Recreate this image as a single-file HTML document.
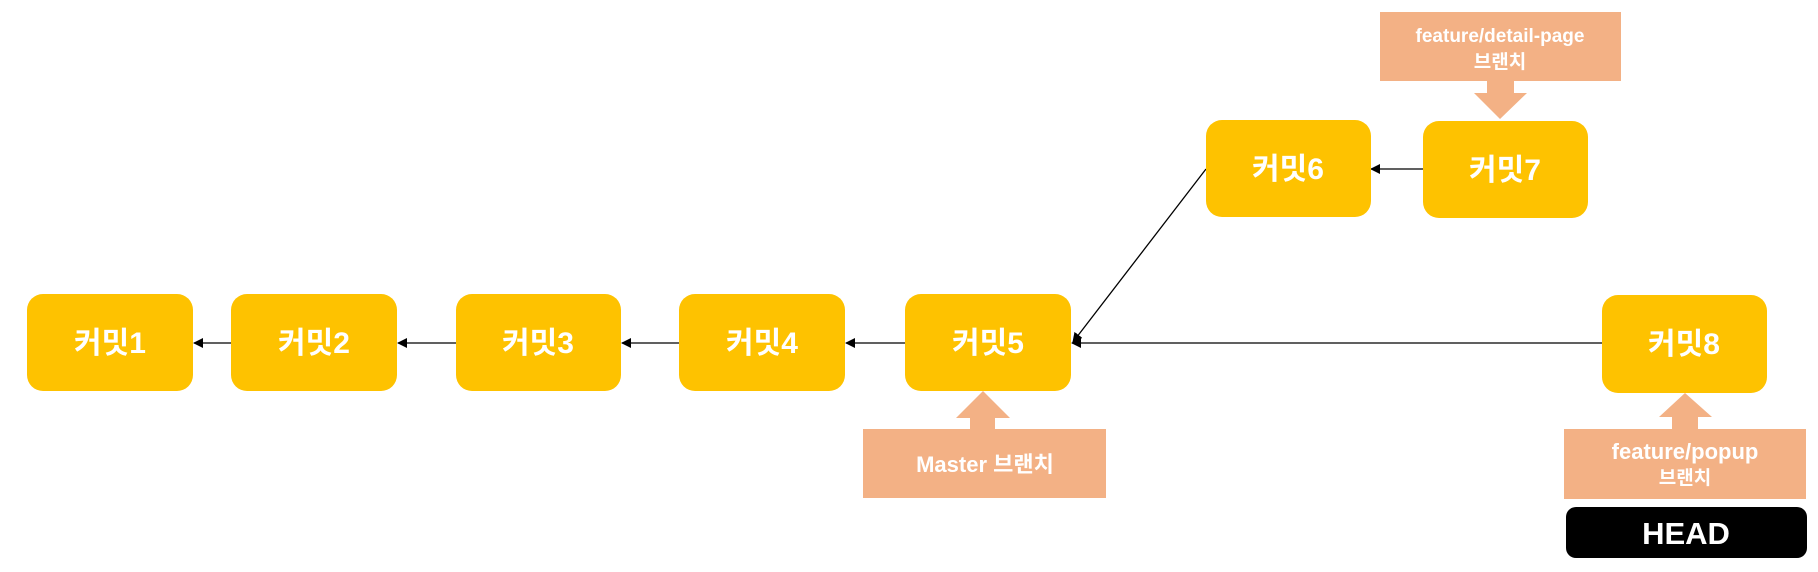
<!DOCTYPE html>
<html><head><meta charset="utf-8"><style>
html,body{margin:0;padding:0;background:#fff;}
svg{display:block;}
text{font-family:"Liberation Sans","Noto Sans CJK KR",sans-serif;font-weight:bold;fill:#fff;text-anchor:middle;}
</style></head><body>
<svg width="1818" height="572" viewBox="0 0 1818 572" xmlns="http://www.w3.org/2000/svg">
<defs>
<marker id="ar" markerWidth="10" markerHeight="10" refX="9" refY="5" orient="auto" markerUnits="userSpaceOnUse">
<path d="M0,0 L10,5 L0,10 z" fill="#000"/>
</marker>
</defs>
<g stroke="#000" stroke-width="1.3" fill="none" marker-end="url(#ar)">
<line x1="231" y1="343" x2="194" y2="343"/>
<line x1="456" y1="343" x2="398" y2="343"/>
<line x1="679" y1="343" x2="622" y2="343"/>
<line x1="905" y1="343" x2="846" y2="343"/>
<line x1="1602" y1="343" x2="1072" y2="343"/>
<line x1="1206" y1="169" x2="1073" y2="342"/>
<line x1="1423" y1="169" x2="1371" y2="169"/>
</g>
<g fill="#fec200">
<rect x="27" y="294" width="166" height="97" rx="16"/>
<rect x="231" y="294" width="166" height="97" rx="16"/>
<rect x="456" y="294" width="165" height="97" rx="16"/>
<rect x="679" y="294" width="166" height="97" rx="16"/>
<rect x="905" y="294" width="166" height="97" rx="16"/>
<rect x="1206" y="120" width="165" height="97" rx="16"/>
<rect x="1423" y="121" width="165" height="97" rx="16"/>
<rect x="1602" y="295" width="165" height="98" rx="16"/>
</g>
<g font-size="30">
<text x="110" y="353">커밋1</text>
<text x="314" y="353">커밋2</text>
<text x="538" y="353">커밋3</text>
<text x="762" y="353">커밋4</text>
<text x="988" y="353">커밋5</text>
<text x="1288" y="179">커밋6</text>
<text x="1505" y="180">커밋7</text>
<text x="1684" y="354">커밋8</text>
</g>
<g fill="#f3b185">
<rect x="1380" y="12" width="241" height="69"/>
<polygon points="1487,81 1514,81 1514,93 1527,93 1500,119 1474,93 1487,93"/>
<rect x="863" y="429" width="243" height="69"/>
<polygon points="983,391 1010,418 995,418 995,429 970,429 970,418 956,418"/>
<rect x="1564" y="429" width="242" height="70"/>
<polygon points="1685,393 1712,417 1698,417 1698,429 1672,429 1672,417 1659,417"/>
</g>
<g font-size="19">
<text x="1500" y="42">feature/detail-page</text>
<text x="1500" y="68">브랜치</text>
<text x="985" y="472" font-size="22">Master 브랜치</text>
<text x="1685" y="459" font-size="22">feature/popup</text>
<text x="1685" y="484">브랜치</text>
</g>
<rect x="1566" y="507" width="241" height="51" rx="10" fill="#000"/>
<text x="1686" y="544" font-size="31">HEAD</text>
</svg>
</body></html>
